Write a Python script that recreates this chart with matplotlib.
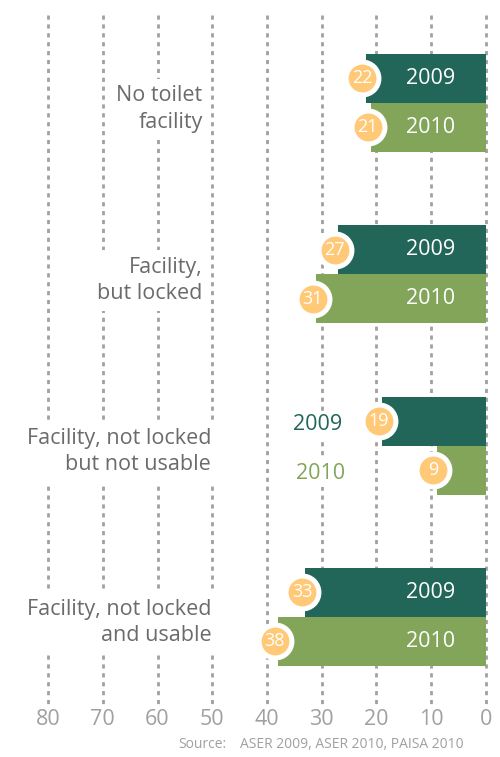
import matplotlib
matplotlib.use("Agg")
import matplotlib.pyplot as plt

plt.rcParams['font.family'] = ['Open Sans', 'DejaVu Sans']
plt.rcParams['lines.scale_dashes'] = False

categories = ["No toilet\nfacility", "Facility,\nbut locked",
              "Facility, not locked\nbut not usable", "Facility, not locked\nand usable"]
years = ["2009", "2010"]
vals_2009 = [22, 27, 19, 33]
vals_2010 = [21, 31, 9, 38]
ticks = [80, 70, 60, 50, 40, 30, 20, 10, 0]
source = "ASER 2009, ASER 2010, PAISA 2010"

DARK = "#22665a"
LIGHT = "#82a55a"
ORANGE = "#ffc978"
GRID = "#a0a0a0"
TXT = "#6b6b6b"
label_x = [51.8, 51.8, 50.2, 50.2]   # right edge of the category labels

fig = plt.figure(figsize=(5, 7.57), dpi=100)
ax = fig.add_axes([0, 0, 1, 1])
ax.set_xlim(88.77, -2.56)
ax.set_ylim(3.818, -0.601)
ax.axis("off")

# dashed grid
for t in ticks:
    ax.plot([t, t], [-0.514, 3.514], color=GRID, lw=2.0, dashes=(3, 3.4), zorder=1)

h = 0.286
for i, (a, b) in enumerate(zip(vals_2009, vals_2010)):
    ax.barh(i - h / 2, a, height=h, color=DARK, zorder=2)
    ax.barh(i + h / 2, b, height=h, color=LIGHT, zorder=2)
    for y, v in ((i - h / 2, a), (i + h / 2, b)):
        ax.scatter(v + 0.6, y, s=560, color=ORANGE, edgecolor="white",
                   linewidth=3.6, zorder=3)
        ax.text(v + 0.6, y, str(v), color="white", fontsize=13,
                ha="center", va="center", zorder=4)
    # year labels: inside the bar if it is long enough, else outside in colour
    if min(a, b) > 15:
        ax.text(10.2, i - h / 2, years[0], color="white", fontsize=15.5,
                ha="center", va="center", zorder=4)
        ax.text(10.2, i + h / 2, years[1], color="white", fontsize=15.5,
                ha="center", va="center", zorder=4)
    else:
        ax.text(30.8, i - h / 2 + 0.02, years[0], color=DARK, fontsize=15.5,
                ha="center", va="center", zorder=4,
                bbox=dict(facecolor="white", edgecolor="none", pad=2))
        ax.text(30.2, i + h / 2 + 0.02, years[1], color=LIGHT, fontsize=15.5,
                ha="center", va="center", zorder=4,
                bbox=dict(facecolor="white", edgecolor="none", pad=2))
    ax.text(label_x[i], i + 0.035, categories[i], color=TXT, fontsize=15.5,
            ha="right", va="center", linespacing=1.32, zorder=4,
            bbox=dict(facecolor="white", edgecolor="none", pad=5))

for t in ticks:
    ax.text(t, 3.6, str(t), color=GRID, fontsize=15.5, ha="center", va="center")

fig.text(0.356, 0.016, "Source:", color=GRID, fontsize=10, ha="left", va="center")
fig.text(0.48, 0.016, source, color=GRID, fontsize=10, ha="left", va="center")

fig.savefig("out.png", dpi=100)
